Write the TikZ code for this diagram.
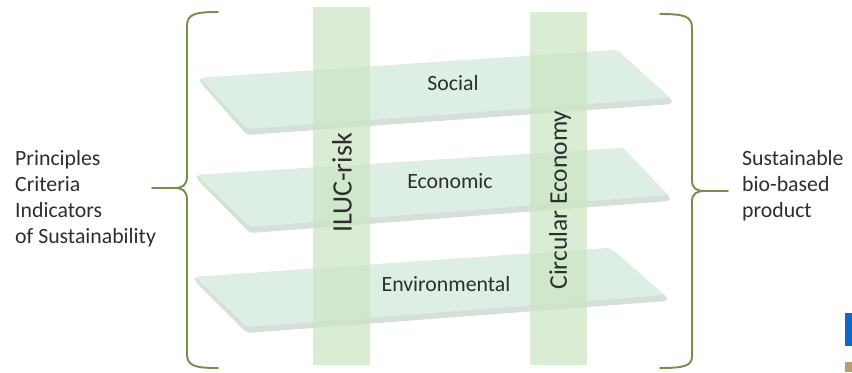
\documentclass[tikz,border=0pt]{standalone}
\usepackage{fontspec}
\setmainfont{Carlito}
\usetikzlibrary{positioning}
\definecolor{planegreen}{HTML}{DDEEE2}
\definecolor{planeedge}{HTML}{D6DFD9}
\definecolor{bandgreen}{HTML}{CDE5C4}
\definecolor{bracegreen}{HTML}{74904F}
\definecolor{textgray}{HTML}{2E2E2E}
\tikzstyle{plane} = [fill=planegreen, draw=none, rounded corners=2pt]
\tikzstyle{edge} = [fill=planeedge, draw=none, rounded corners=2pt]
\tikzstyle{band} = [fill=bandgreen, draw=none, opacity=0.72, minimum width=57*0.02cm, inner sep=0]
\tikzstyle{lbl} = [text=textgray, font=\fontsize{12.4}{14.8}\selectfont]
\tikzstyle{side} = [lbl, align=left, anchor=west]
\tikzstyle{brace} = [draw=bracegreen, line width=1.1pt, line cap=round]

\begin{document}
\begin{tikzpicture}[x=0.02cm, y=-0.02cm]
  \useasboundingbox (0,0) rectangle (852,372);

  % Planes (with a thin lower edge)
  \fill[edge] (200,78) -- (617,50) -- (672,100) -- (672,104) -- (247,135) -- (200,82) -- cycle;
  \fill[plane] (200,78) -- (617,50) -- (670,98) -- (247,129) -- cycle;
  \fill[edge] (197,175) -- (623,148) -- (670,197) -- (670,201) -- (250,233) -- (197,179) -- cycle;
  \fill[plane] (197,175) -- (623,148) -- (668,195) -- (250,227) -- cycle;
  \fill[edge] (195,277) -- (610,248) -- (667,297) -- (667,301) -- (247,333) -- (195,281) -- cycle;
  \fill[plane] (195,277) -- (610,248) -- (665,295) -- (247,327) -- cycle;

  % Plane labels
  \node[lbl] (soc) at (453,83) {Social};
  \node[lbl] (eco) at (450,181) {Economic};
  \node[lbl] (env) at (446,284) {Environmental};

  % Vertical bands
  \node[band, minimum height=358*0.02cm] (iluc) at (341.5,186) {};
  \node[band, minimum height=353*0.02cm] (circ) at (558,188.5) {};
  \node[lbl, rotate=90, font=\fontsize{16}{19}\selectfont] (ilucT) at (342,183) {ILUC-risk};
  \node[lbl, rotate=90, font=\fontsize{14.5}{17}\selectfont] (circT) at (560,200) {Circular Economy};

  % Braces
  \draw[brace] (218,12) .. controls (195,12) and (187,14) .. (187,26)
    -- (187,176) .. controls (187,186) and (182,188) .. (174,188) -- (152,188);
  \draw[brace] (174,188) .. controls (182,188) and (187,190) .. (187,200)
    -- (187,354) .. controls (187,366) and (195,368) .. (218,368);
  \draw[brace] (660,14) .. controls (684,14) and (692,16) .. (692,28)
    -- (692,180) .. controls (692,189) and (697,191) .. (705,191) -- (728,191);
  \draw[brace] (705,191) .. controls (697,191) and (692,193) .. (692,202)
    -- (692,356) .. controls (692,366) and (684,368) .. (660,368);

  % Side texts
  \node[side] (pcis) at (9,199) {Principles\\Criteria\\Indicators\\of Sustainability};
  \node[side] (sbp) at (736,186) {Sustainable\\bio-based\\product};

  % Corner marks
  \fill[fill={rgb,255:red,16;green,104;blue,196}] (845,313) rectangle (852,346);
  \fill[fill={rgb,255:red,184;green,160;blue,110}] (845,362) rectangle (852,372);
\end{tikzpicture}
\end{document}
